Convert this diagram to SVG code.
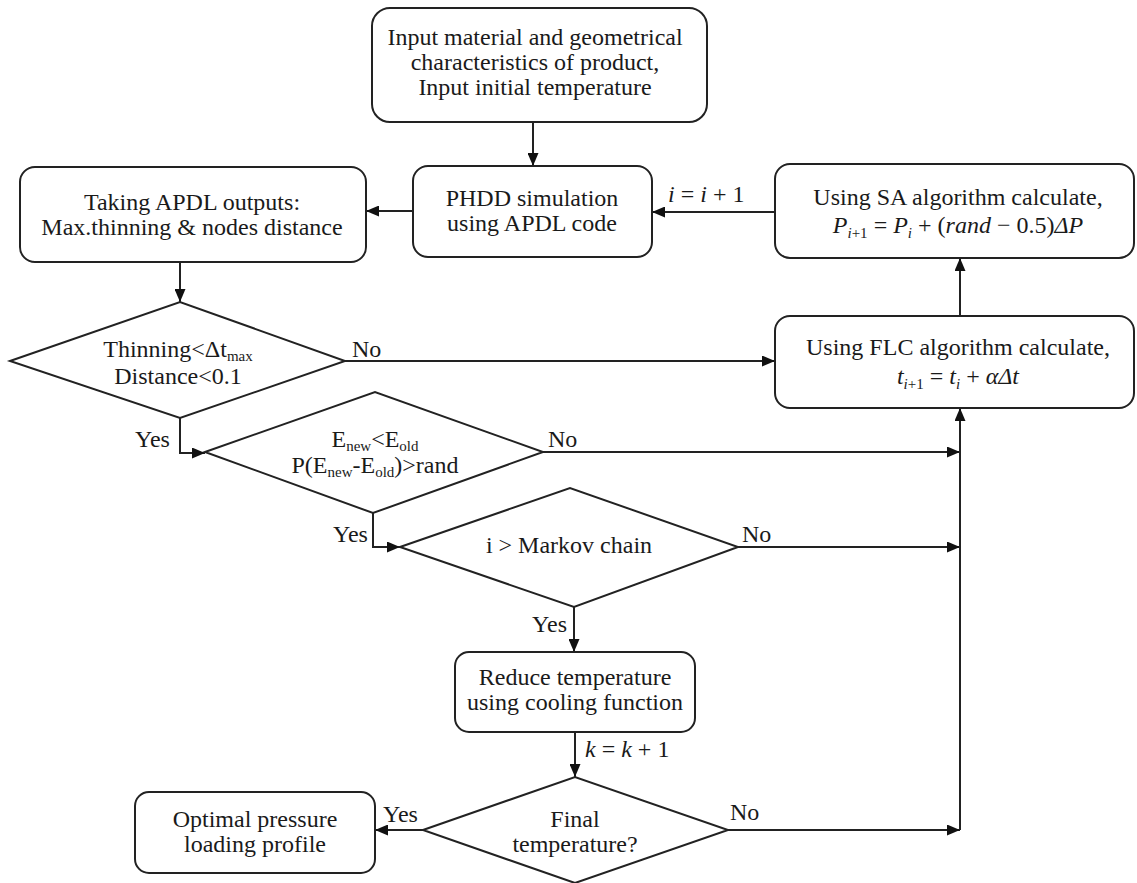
<svg xmlns="http://www.w3.org/2000/svg" width="1137" height="883" viewBox="0 0 1137 883">
<style>
.box{fill:#fff;stroke:#222;stroke-width:2}
.dia{fill:#fff;stroke:#222;stroke-width:2}
.ln{fill:none;stroke:#222;stroke-width:2}
text{font-family:Tinos, 'Liberation Serif', 'Times New Roman', 'Nimbus Roman', 'Nimbus Roman No9 L', FreeSerif, 'DejaVu Serif', serif;font-size:24px;fill:#1a1a1a}
.c{text-anchor:middle}
.m{font-style:italic}
.s{font-size:15px}
</style>
<defs>
<marker id="ah" markerUnits="userSpaceOnUse" markerWidth="13" markerHeight="11" refX="13" refY="5.5" orient="auto">
<path d="M0,0 L13,5.5 L0,11 z" fill="#111"/>
</marker>
</defs>
<rect width="1137" height="883" fill="#fff"/>

<g id="connectors">
<path class="ln" d="M533,122 V166" marker-end="url(#ah)"/>
<path class="ln" d="M413,211 H366" marker-end="url(#ah)"/>
<path class="ln" d="M775,212 H652" marker-end="url(#ah)"/>
<path class="ln" d="M180,262 V302" marker-end="url(#ah)"/>
<path class="ln" d="M345,361 H775" marker-end="url(#ah)"/>
<path class="ln" d="M960,316 V258" marker-end="url(#ah)"/>
<path class="ln" d="M180,418 V453 H205" marker-end="url(#ah)"/>
<path class="ln" d="M543,452 H960" marker-end="url(#ah)"/>
<path class="ln" d="M373,513 V547 H400" marker-end="url(#ah)"/>
<path class="ln" d="M738,547 H960" marker-end="url(#ah)"/>
<path class="ln" d="M574,607 V652" marker-end="url(#ah)"/>
<path class="ln" d="M575,732 V777" marker-end="url(#ah)"/>
<path class="ln" d="M423,830 H375" marker-end="url(#ah)"/>
<path class="ln" d="M728,830 H960" marker-end="url(#ah)"/>
<path class="ln" d="M960,830 V408" marker-end="url(#ah)"/>
<text x="668" y="202"><tspan class="m">i</tspan> = <tspan class="m">i</tspan> + 1</text>
<text x="585" y="757"><tspan class="m">k</tspan> = <tspan class="m">k</tspan> + 1</text>
<text x="352" y="357">No</text>
<text x="548" y="447">No</text>
<text x="742" y="542">No</text>
<text x="730" y="820">No</text>
<text x="135" y="447">Yes</text>
<text x="333" y="542">Yes</text>
<text x="567" y="632" text-anchor="end">Yes</text>
<text x="383" y="822">Yes</text>
</g>

<g id="n-input">
<rect class="box" x="372" y="8" width="335" height="114" rx="18"/>
<text class="c" x="535" y="45">Input material and geometrical</text>
<text class="c" x="535" y="70">characteristics of product,</text>
<text class="c" x="535" y="95">Input initial temperature</text>
</g>

<g id="n-phdd">
<rect class="box" x="413" y="166" width="239" height="91" rx="15"/>
<text class="c" x="532" y="206">PHDD simulation</text>
<text class="c" x="532" y="231">using APDL code</text>
</g>

<g id="n-apdl">
<rect class="box" x="20" y="167" width="346" height="95" rx="15"/>
<text class="c" x="192" y="210">Taking APDL outputs:</text>
<text class="c" x="192" y="235">Max.thinning &amp; nodes distance</text>
</g>

<g id="n-sa">
<rect class="box" x="775" y="164" width="359" height="94" rx="15"/>
<text class="c" x="958" y="205">Using SA algorithm calculate,</text>
<text class="c" x="958" y="233"><tspan class="m">P</tspan><tspan class="s" dy="5"><tspan class="m">i</tspan>+1</tspan><tspan dy="-5"> = </tspan><tspan class="m">P</tspan><tspan class="s m" dy="5">i</tspan><tspan dy="-5"> + (</tspan><tspan class="m">rand</tspan> − 0.5)<tspan class="m">ΔP</tspan></text>
</g>

<g id="n-flc">
<rect class="box" x="775" y="316" width="359" height="92" rx="15"/>
<text class="c" x="958" y="355">Using FLC algorithm calculate,</text>
<text class="c" x="958" y="384"><tspan class="m">t</tspan><tspan class="s" dy="5"><tspan class="m">i</tspan>+1</tspan><tspan dy="-5"> = </tspan><tspan class="m">t</tspan><tspan class="s m" dy="5">i</tspan><tspan dy="-5"> + </tspan><tspan class="m">αΔt</tspan></text>
</g>

<g id="d-thinning">
<polygon class="dia" points="10,361 180,302 345,361 180,418"/>
<text class="c" x="178" y="357">Thinning&lt;Δt<tspan class="s" dy="4">max</tspan></text>
<text class="c" x="178" y="384">Distance&lt;0.1</text>
</g>

<g id="d-energy">
<polygon class="dia" points="205,452 375,392 543,452 373,513"/>
<text class="c" x="375" y="447">E<tspan class="s" dy="4">new</tspan><tspan dy="-4">&lt;E</tspan><tspan class="s" dy="4">old</tspan></text>
<text class="c" x="375" y="473">P(E<tspan class="s" dy="4">new</tspan><tspan dy="-4">-E</tspan><tspan class="s" dy="4">old</tspan><tspan dy="-4">)&gt;rand</tspan></text>
</g>

<g id="d-markov">
<polygon class="dia" points="400,547 570,488 738,547 574,607"/>
<text class="c" x="569" y="553">i &gt; Markov chain</text>
</g>

<g id="n-reduce">
<rect class="box" x="455" y="652" width="240" height="80" rx="14"/>
<text class="c" x="575" y="685">Reduce temperature</text>
<text class="c" x="575" y="710">using cooling function</text>
</g>

<g id="d-final">
<polygon class="dia" points="423,830 575,777 728,830 575,883"/>
<text class="c" x="575" y="827">Final</text>
<text class="c" x="575" y="852">temperature?</text>
</g>

<g id="n-optimal">
<rect class="box" x="135" y="792" width="240" height="81" rx="14"/>
<text class="c" x="255" y="827">Optimal pressure</text>
<text class="c" x="255" y="852">loading profile</text>
</g>
</svg>
